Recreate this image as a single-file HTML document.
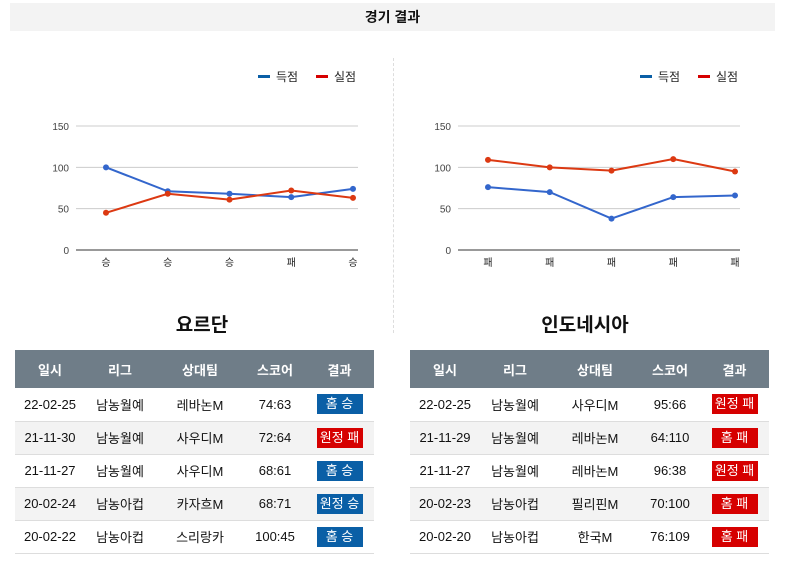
<!DOCTYPE html>
<html><head><meta charset="utf-8"><style>
*{margin:0;padding:0;box-sizing:border-box}
body{width:786px;height:565px;background:#fff;font-family:"Liberation Sans","Noto Sans CJK KR",sans-serif;position:relative;overflow:hidden;color:#111}
.title{position:absolute;left:10px;top:3px;width:765px;height:28px;background:#f3f3f3;text-align:center;font-size:14px;font-weight:bold;line-height:28px}
.divider{position:absolute;left:393px;top:58px;height:275px;border-left:1px dashed #ddd}
.team{position:absolute;top:310px;font-size:19px;font-weight:bold;text-align:center;width:200px}
table{position:absolute;top:350px;width:359px;border-collapse:collapse;font-size:13px;table-layout:fixed}
th{background:#6f7d88;color:#fff;height:38px;font-weight:bold;font-size:13px}
td{height:33px;text-align:center;border-bottom:1px solid #ddd}
tr:nth-child(odd) td{background:#f3f3f3}
.b{display:inline-block;width:46px;height:20px;line-height:20px;color:#fff;font-size:13px}
.w{background:#0a5fa6}.l{background:#d60000}
svg{position:absolute;top:0;left:0}
</style></head><body>
<div class="title">경기 결과</div>
<div class="divider"></div>
<svg id="c" width="786" height="300"></svg>
<div class="team" style="left:102px">요르단</div>
<div class="team" style="left:485px">인도네시아</div>
<table style="left:15px">
<colgroup><col style="width:70px"><col style="width:70px"><col style="width:90px"><col style="width:60px"><col style="width:69px"></colgroup>
<tr><th>일시</th><th>리그</th><th>상대팀</th><th>스코어</th><th>결과</th></tr>
<tr><td>22-02-25</td><td>남농월예</td><td>레바논M</td><td>74:63</td><td><span class="b w">홈 승</span></td></tr>
<tr><td>21-11-30</td><td>남농월예</td><td>사우디M</td><td>72:64</td><td><span class="b l">원정 패</span></td></tr>
<tr><td>21-11-27</td><td>남농월예</td><td>사우디M</td><td>68:61</td><td><span class="b w">홈 승</span></td></tr>
<tr><td>20-02-24</td><td>남농아컵</td><td>카자흐M</td><td>68:71</td><td><span class="b w">원정 승</span></td></tr>
<tr><td>20-02-22</td><td>남농아컵</td><td>스리랑카</td><td>100:45</td><td><span class="b w">홈 승</span></td></tr>
</table>
<table style="left:410px">
<colgroup><col style="width:70px"><col style="width:70px"><col style="width:90px"><col style="width:60px"><col style="width:69px"></colgroup>
<tr><th>일시</th><th>리그</th><th>상대팀</th><th>스코어</th><th>결과</th></tr>
<tr><td>22-02-25</td><td>남농월예</td><td>사우디M</td><td>95:66</td><td><span class="b l">원정 패</span></td></tr>
<tr><td>21-11-29</td><td>남농월예</td><td>레바논M</td><td>64:110</td><td><span class="b l">홈 패</span></td></tr>
<tr><td>21-11-27</td><td>남농월예</td><td>레바논M</td><td>96:38</td><td><span class="b l">원정 패</span></td></tr>
<tr><td>20-02-23</td><td>남농아컵</td><td>필리핀M</td><td>70:100</td><td><span class="b l">홈 패</span></td></tr>
<tr><td>20-02-20</td><td>남농아컵</td><td>한국M</td><td>76:109</td><td><span class="b l">홈 패</span></td></tr>
</table>
<script>
const ticks=[0,50,100,150];
const jorCats=["승","승","승","패","승"];
const jorScored=[100,71,68,64,74];
const jorConceded=[45,68,61,72,63];
const indCats=["패","패","패","패","패"];
const indScored=[76,70,38,64,66];
const indConceded=[109,100,96,110,95];
const NS="http://www.w3.org/2000/svg";
const svg=document.getElementById('c');
function mk(t,a,p){const e=document.createElementNS(NS,t);for(const k in a)e.setAttribute(k,a[k]);(p||svg).appendChild(e);return e;}
function chart(x0,x1,cats,s1,s2,name){
 const g=mk('g',{});
 
 
 const y=v=>250-v*(124/150);
 const first=x0+30,last=x1-5;
 const x=i=>first+(last-first)*i/(cats.length-1);
 ticks.forEach(t=>{
  const ln=mk('line',{x1:x0,x2:x1,y1:y(t),y2:y(t),stroke:t?'#ccc':'#333','stroke-width':1},g);
  
  
  const tx=mk('text',{x:x0-7,y:y(t)+4,'text-anchor':'end','font-size':10,fill:'#444'},g);
  
  
  tx.textContent=t;
 });
 cats.forEach((c,i)=>{
  const tx=mk('text',{x:x(i),y:266,'text-anchor':'middle','font-size':10,fill:'#222'},g);
  
  
  tx.textContent=c;
 });
 [[s1,'#3366cc','scored-line'],[s2,'#dc3912','conceded-line']].forEach(([s,col,n])=>{
  const p=mk('polyline',{points:s.map((v,i)=>x(i)+','+y(v)).join(' '),fill:'none',stroke:col,'stroke-width':2},g);
  
  
  s.forEach((v,i)=>{const c=mk('circle',{cx:x(i),cy:y(v),r:3,fill:col},g);
   
   });
 });
 const lx=x1-100;
 [['득점','#0a5fa6',0],['실점','#d60000',58]].forEach(([t,col,o])=>{
  mk('rect',{x:lx+o,y:75,width:12,height:3,fill:col},g);
  const tx=mk('text',{x:lx+o+18,y:81,'font-size':12,fill:'#222'},g);
  
  
  tx.textContent=t;
 });
}
chart(76,358,jorCats,jorScored,jorConceded,'jordan-chart');
chart(458,740,indCats,indScored,indConceded,'indonesia-chart');
</script>
</body></html>
